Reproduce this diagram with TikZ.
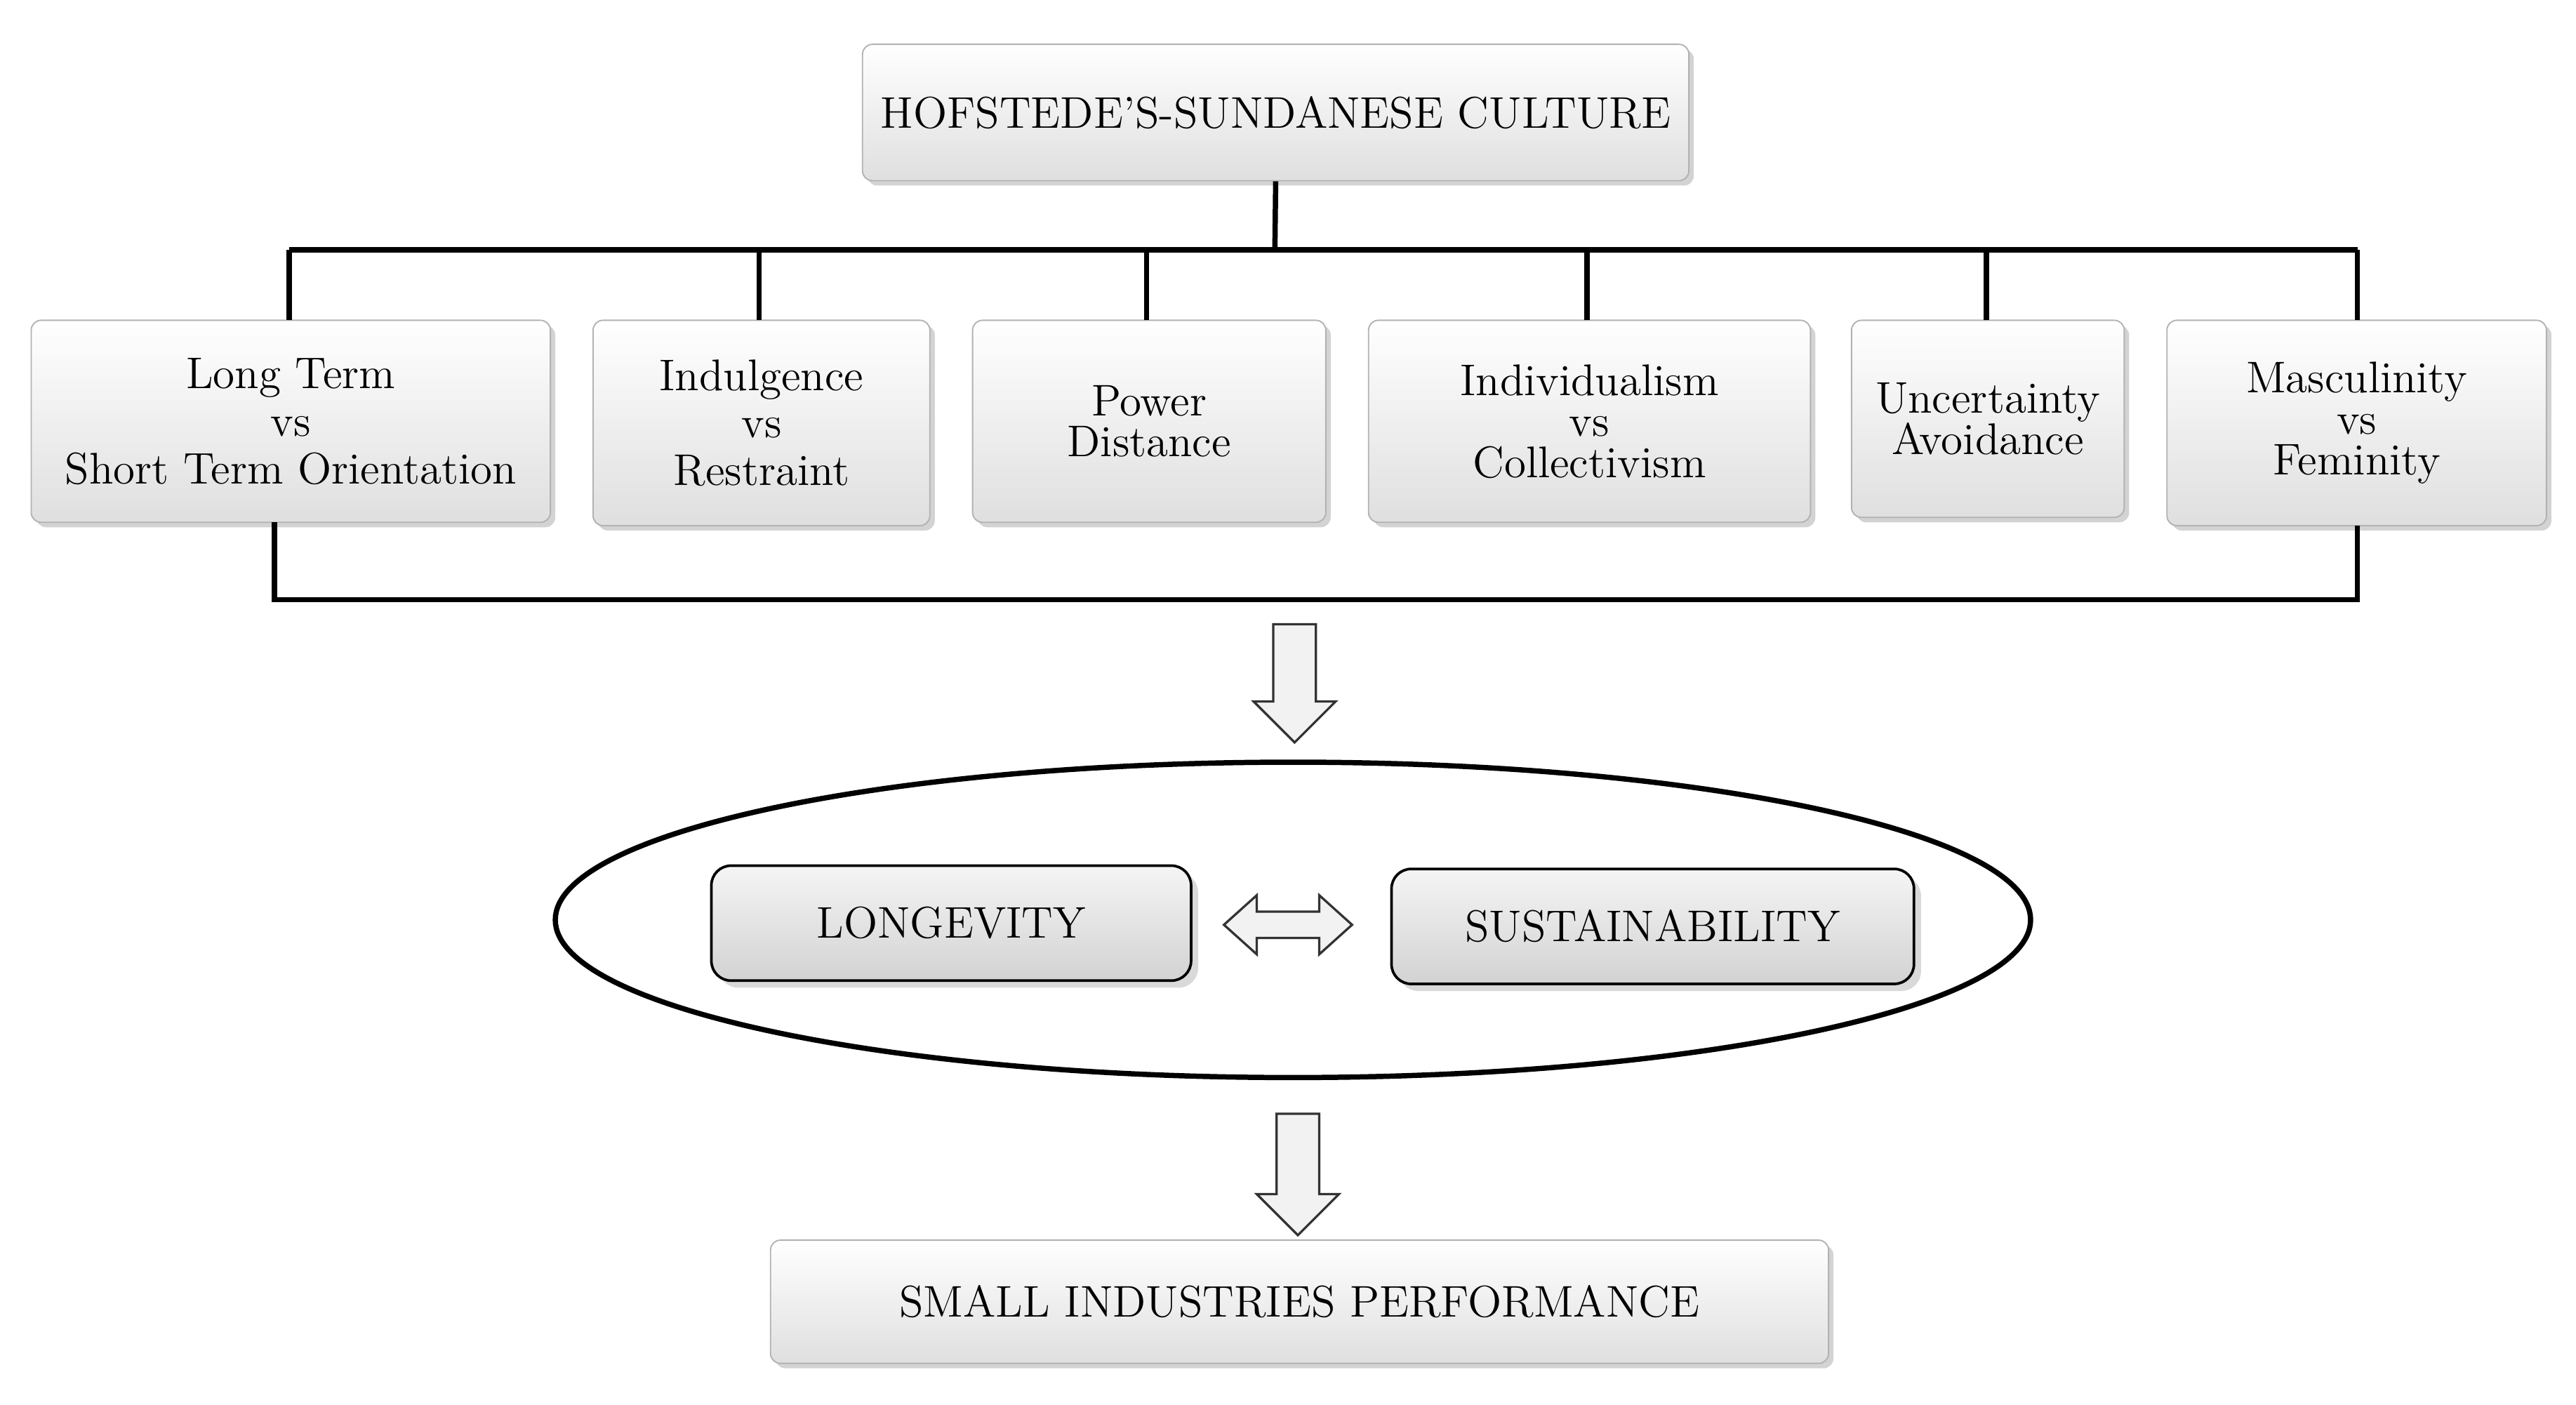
\documentclass[tikz,border=0pt]{standalone}
\usetikzlibrary{shadows,shapes.arrows}
\begin{document}
\begin{tikzpicture}[x=0.5pt,y=-0.5pt,
 gbox/.style={draw=gray!60,line width=0.4pt,top color=white,bottom color=gray!25,rounded corners=3pt,drop shadow={opacity=0.35,shadow xshift=1.5pt,shadow yshift=-1.5pt},align=center,font=\fontsize{13.5}{12.5}\selectfont},
 rbox/.style={draw=black,line width=0.8pt,top color=gray!8,bottom color=gray!35,rounded corners=6pt,drop shadow={opacity=0.3},font=\fontsize{13.5}{14}\selectfont},
 conn/.style={line width=1.6pt},
 bigarrow/.style={draw=black!80,fill=gray!10,line width=0.7pt}]
\useasboundingbox (0,0) rectangle (1568,855);
\def\bx#1#2#3#4#5#6{\node[gbox,minimum width={(#4-#2)*0.5pt},minimum height={(#5-#3)*0.5pt}] (#1) at ({(#2+#4)/2},{(#3+#5)/2}) {#6};}
\bx{top}{525}{27}{1028}{110}{HOFSTEDE'S-SUNDANESE CULTURE}
\bx{b1}{19}{195}{335}{318}{Long Term\\[2pt] vs\\[2pt] Short Term Orientation}
\bx{b2}{361}{195}{566}{320}{Indulgence\\[2pt] vs\\[2pt] Restraint}
\bx{b3}{592}{195}{807}{318}{Power\\ Distance}
\bx{b4}{833}{195}{1102}{318}{Individualism\\ vs\\ Collectivism}
\bx{b5}{1127}{195}{1293}{315}{Uncertainty\\ Avoidance}
\bx{b6}{1319}{195}{1550}{320}{Masculinity\\ vs\\ Feminity}
\bx{perf}{469}{755}{1113}{830}{SMALL INDUSTRIES PERFORMANCE}
\coordinate (h) at (776,152);
\draw[conn] (top.south) -- (h);
\draw[conn] (176,152) -- (1435,152);
\foreach \n/\x in {b1/176,b2/462,b3/698,b4/966,b5/1209,b6/1435}
  \draw[conn] (\x,152) -- (\x,195);
\draw[conn] (167,318) -- (167,365) -- (1435,365) -- (1435,320);
\draw[bigarrow] (775,380) -- (801,380) -- (801,427) -- (813,427) -- (788,452) -- (763,427) -- (775,427) -- cycle;
\draw[line width=1.6pt] (787,560) ellipse [x radius=449, y radius=96];
\node[rbox,minimum width=146pt,minimum height=35pt] (lon) at (579,562) {LONGEVITY};
\node[rbox,minimum width=159pt,minimum height=35pt] (sus) at (1006,564) {SUSTAINABILITY};
\draw[bigarrow] (745,563) -- (765,545) -- (765,555) -- (803,555) -- (803,545) -- (823,563) -- (803,581) -- (803,571) -- (765,571) -- (765,581) -- cycle;
\draw[bigarrow] (777,678) -- (803,678) -- (803,727) -- (815,727) -- (790,752) -- (765,727) -- (777,727) -- cycle;
\end{tikzpicture}
\end{document}
